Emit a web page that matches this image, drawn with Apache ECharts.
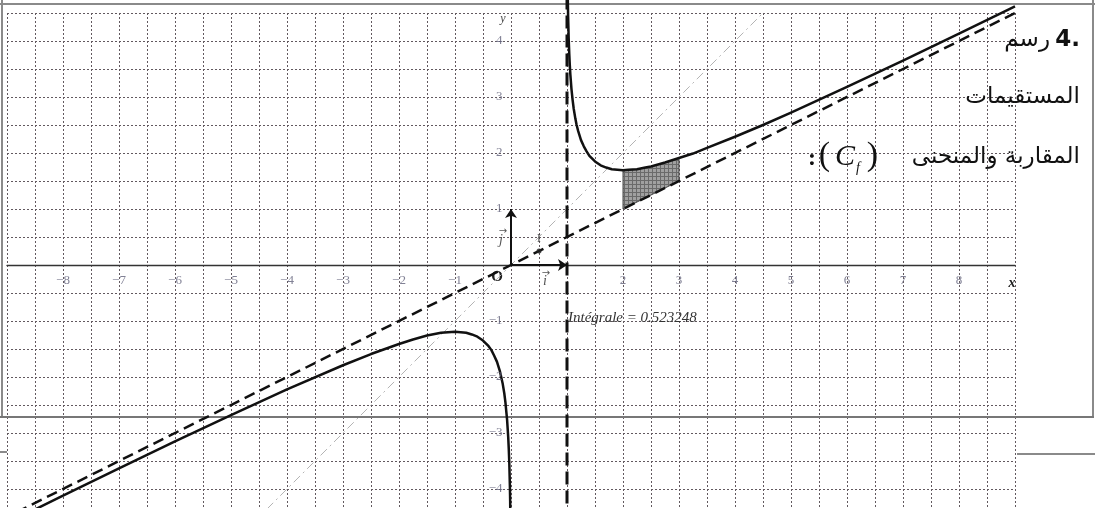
<!DOCTYPE html>
<html>
<head>
<meta charset="utf-8">
<script src="https://cdn.jsdelivr.net/npm/echarts@6/dist/echarts.min.js"></script>
<style>
  html, body { margin: 0; padding: 0; background: #fff; }
  #chart { width: 1095px; height: 508px; }
</style>
</head>
<body>
<div id="chart"></div>
<script>
// Curve (C_f), branch on x > 1
const rightX = [1.01, 1.015, 1.02, 1.03, 1.04, 1.05, 1.06, 1.08, 1.1, 1.12, 1.15, 1.17, 1.2, 1.25, 1.3, 1.35, 1.4, 1.5, 1.6, 1.7, 1.8, 1.9, 2, 2.1, 2.25, 2.4, 2.5, 2.75, 3, 3.25, 3.5, 4, 4.5, 5, 6, 7, 8, 9];
const rightY = [5.12, 4.72, 4.44, 4.05, 3.78, 3.57, 3.40, 3.14, 2.95, 2.79, 2.61, 2.51, 2.39, 2.23, 2.12, 2.03, 1.95, 1.85, 1.78, 1.74, 1.71, 1.70, 1.69, 1.70, 1.71, 1.74, 1.76, 1.83, 1.91, 1.99, 2.09, 2.29, 2.50, 2.72, 3.18, 3.65, 4.13, 4.62];
// Curve (C_f), branch on x < 0
const leftX = [-9, -8, -7, -6, -5, -4, -3, -2.5, -2, -1.75, -1.5, -1.25, -1, -0.9, -0.8, -0.7, -0.6, -0.5, -0.4, -0.35, -0.3, -0.25, -0.2, -0.15, -0.12, -0.1, -0.07, -0.05, -0.04, -0.03, -0.02, -0.015, -0.012, -0.01];
const leftY = [-4.61, -4.12, -3.63, -3.15, -2.68, -2.22, -1.79, -1.59, -1.41, -1.33, -1.26, -1.21, -1.19, -1.20, -1.21, -1.24, -1.28, -1.35, -1.45, -1.52, -1.62, -1.73, -1.89, -2.11, -2.29, -2.45, -2.76, -3.07, -3.28, -3.55, -3.94, -4.22, -4.44, -4.62];
// Oblique asymptote y = x/2
const obliqueX = [-9.1, 9.05];
const obliqueY = [-4.55, 4.525];
// Vertical asymptote x = 1
const verticalX = [1, 1];
const verticalY = [-4.6, 4.75];
// First bisector y = x
const bisectorX = [-4.6, 4.6];
const bisectorY = [-4.6, 4.6];
// Region between the curve and the oblique asymptote, 2 <= x <= 3
const shadeX = [2, 2.1, 2.25, 2.4, 2.5, 2.75, 3];
const shadeTop = [1.69, 1.70, 1.71, 1.74, 1.76, 1.83, 1.91];
const shadeBottom = [1, 1.05, 1.125, 1.2, 1.25, 1.375, 1.5];
// Point I on the asymptote
const pointI = [0.5, 0.25];
// Tick labels
const xTicks = [-8, -7, -6, -5, -4, -3, -2, -1, 2, 3, 4, 5, 6, 7, 8];
const yTicks = [-4, -3, -2, -1, 1, 2, 3, 4];
const integralText = 'Intégrale = 0.523248';

const zip = (xs, ys) => xs.map((x, i) => [x, ys[i]]);
const fmt = v => (v < 0 ? '\u2212' + Math.abs(v) : String(v));

function hatchCanvas() {
  const c = document.createElement('canvas');
  c.width = 4; c.height = 4;
  const g = c.getContext('2d');
  g.fillStyle = '#a0a0a0';
  g.fillRect(0, 0, 4, 4);
  g.fillStyle = '#6a6a6a';
  g.fillRect(0, 0, 4, 1);
  g.fillRect(0, 0, 1, 4);
  return c;
}
const hatch = { image: hatchCanvas(), repeat: 'repeat' };

const chart = echarts.init(document.getElementById('chart'), null, { renderer: 'canvas' });

const gridLine = { show: true, lineStyle: { color: '#62595f', type: [2, 2], width: 1 } };
const tickLabel = { show: true, color: '#62627a', fontFamily: 'Liberation Serif', fontSize: 13 };

chart.setOption({
  backgroundColor: '#ffffff',
  animation: false,
  grid: { left: 7, top: 13, width: 1008, height: 504, show: false, containLabel: false, outerBoundsMode: 'none' },
  xAxis: {
    type: 'value', min: -9, max: 9, interval: 0.5,
    axisLine: { onZero: true, lineStyle: { color: '#333', width: 1.4 } },
    axisTick: { show: false },
    axisLabel: { show: false },
    splitLine: gridLine
  },
  yAxis: {
    type: 'value', min: -4.5, max: 4.5, interval: 0.5,
    axisLine: { show: false },
    axisTick: { show: false },
    axisLabel: { show: false },
    splitLine: gridLine
  },
  series: [
    {
      name: 'y = x', type: 'line', data: zip(bisectorX, bisectorY), showSymbol: false, z: 3,
      lineStyle: { color: '#b4b4b4', width: 1, type: [9, 4, 2, 4] }
    },
    {
      name: 'aire', type: 'custom', z: 4,
      data: [[shadeX[0], shadeBottom[0]]],
      renderItem: (params, api) => {
        const pts = shadeX.map((x, i) => api.coord([x, shadeTop[i]]));
        for (let i = shadeX.length - 1; i >= 0; i--) pts.push(api.coord([shadeX[i], shadeBottom[i]]));
        return {
          type: 'polygon',
          shape: { points: pts },
          style: { fill: hatch, stroke: '#444', lineWidth: 1 }
        };
      }
    },
    {
      name: 'x = 1', type: 'line', data: zip(verticalX, verticalY), showSymbol: false, z: 5, clip: false,
      lineStyle: { color: '#111', width: 3, type: [13, 6] }
    },
    {
      name: 'y = x/2', type: 'line', data: zip(obliqueX, obliqueY), showSymbol: false, z: 5, clip: false,
      lineStyle: { color: '#111', width: 2.5, type: [11, 6] }
    },
    {
      name: 'Cf droite', type: 'line', data: zip(rightX, rightY), showSymbol: false, z: 6,
      smooth: false, clip: false,
      lineStyle: { color: '#111', width: 2.5, join: 'round' }
    },
    {
      name: 'Cf gauche', type: 'line', data: zip(leftX, leftY), showSymbol: false, z: 6,
      smooth: false, clip: false,
      lineStyle: { color: '#111', width: 2.5, join: 'round' }
    },
    {
      name: 'repere', type: 'lines', coordinateSystem: 'cartesian2d', z: 7,
      symbol: ['none', 'arrow'], symbolSize: 9,
      lineStyle: { color: '#111', width: 2, opacity: 1 },
      data: [
        { coords: [[0, 0], [1, 0]] },
        { coords: [[0, 0], [0, 1]] }
      ]
    },
    {
      name: 'I', type: 'scatter', data: [pointI], symbolSize: 5, z: 7,
      itemStyle: { color: '#222' },
      label: { show: true, formatter: 'I', position: 'top', distance: 3, color: '#333', fontFamily: 'Liberation Serif', fontSize: 13 }
    },
    {
      name: 'graduations x', type: 'scatter', z: 8, silent: true,
      data: xTicks.map(v => [v, 0]), symbolSize: 1, itemStyle: { color: 'rgba(0,0,0,0)' },
      label: Object.assign({ position: 'bottom', distance: 9, formatter: p => fmt(p.value[0]) }, tickLabel)
    },
    {
      name: 'graduations y', type: 'scatter', z: 8, silent: true,
      data: yTicks.map(v => [0, v]), symbolSize: 1, itemStyle: { color: 'rgba(0,0,0,0)' },
      label: Object.assign({ position: 'left', distance: 8, formatter: p => fmt(p.value[1]) }, tickLabel)
    }
  ]
});

// Labels placed relative to the axes
const px = (x, y) => chart.convertToPixel({ gridIndex: 0 }, [x, y]);
const o = px(0, 0);
const xEnd = px(9, 0);
const yTop = px(0, 4.4);
const iPos = px(0.5, 0);
const jPos = px(0, 0.5);
const intPos = px(1, -1);

const serif = 'Liberation Serif';
const ar = '23px DejaVu Sans';
chart.setOption({
  graphic: [
    // page frame
    { type: 'line', shape: { x1: 0, y1: 4, x2: 1095, y2: 4 }, style: { stroke: '#8a8a8a', lineWidth: 2 } },
    { type: 'line', shape: { x1: 2, y1: 0, x2: 2, y2: 418 }, style: { stroke: '#8a8a8a', lineWidth: 2 } },
    { type: 'line', shape: { x1: 1093, y1: 0, x2: 1093, y2: 418 }, style: { stroke: '#8a8a8a', lineWidth: 2 } },
    { type: 'line', shape: { x1: 0, y1: 417, x2: 1094, y2: 417 }, style: { stroke: '#777', lineWidth: 2 } },
    { type: 'line', shape: { x1: 1017, y1: 454, x2: 1095, y2: 454 }, style: { stroke: '#8a8a8a', lineWidth: 2 } },
    { type: 'line', shape: { x1: 0, y1: 452, x2: 7, y2: 452 }, style: { stroke: '#8a8a8a', lineWidth: 2 } },

    // axis names and frame vectors
    { type: 'text', x: o[0] - 14, y: o[1] + 12, style: { text: 'O', font: 'bold 15px ' + serif, fill: '#222', align: 'center', verticalAlign: 'middle' } },
    { type: 'text', x: xEnd[0] - 3, y: xEnd[1] + 18, style: { text: 'x', font: 'italic bold 14px ' + serif, fill: '#222', align: 'center', verticalAlign: 'middle' } },
    { type: 'text', x: yTop[0] - 8, y: yTop[1], style: { text: 'y', font: 'italic 12px ' + serif, fill: '#444', align: 'center', verticalAlign: 'middle' } },
    { type: 'text', x: iPos[0] + 6, y: iPos[1] + 16, style: { text: 'i', font: 'italic 14px ' + serif, fill: '#555', align: 'center', verticalAlign: 'middle' } },
    { type: 'text', x: iPos[0] + 7, y: iPos[1] + 8, style: { text: '\u2192', font: '10px DejaVu Sans', fill: '#555', align: 'center', verticalAlign: 'middle' } },
    { type: 'text', x: jPos[0] - 10, y: jPos[1] + 3, style: { text: 'j', font: 'italic 14px ' + serif, fill: '#555', align: 'center', verticalAlign: 'middle' } },
    { type: 'text', x: jPos[0] - 8, y: jPos[1] - 6, style: { text: '\u2192', font: '10px DejaVu Sans', fill: '#555', align: 'center', verticalAlign: 'middle' } },

    // integral value
    { type: 'text', x: intPos[0] + 1, y: intPos[1] - 3, style: { text: integralText, font: 'italic 15px ' + serif, fill: '#333', align: 'left', verticalAlign: 'middle' } },

    // heading
    { type: 'text', x: 1080, y: 40, style: { text: '4.', font: 'bold 23px DejaVu Sans', fill: '#111', align: 'right', verticalAlign: 'middle' } },
    { type: 'text', x: 1050, y: 40, style: { text: 'رسم', font: ar, fill: '#111', align: 'right', verticalAlign: 'middle' } },
    { type: 'text', x: 1080, y: 97, style: { text: 'المستقيمات', font: ar, fill: '#111', align: 'right', verticalAlign: 'middle' } },
    { type: 'text', x: 1080, y: 157, style: { text: 'المقاربة والمنحنى', font: ar, fill: '#111', align: 'right', verticalAlign: 'middle' } },
    { type: 'text', x: 878, y: 156, style: { text: ')', font: '34px ' + serif, fill: '#111', align: 'right', verticalAlign: 'middle' } },
    { type: 'text', x: 855, y: 157, style: { text: 'C', font: 'italic 30px ' + serif, fill: '#111', align: 'right', verticalAlign: 'middle' } },
    { type: 'text', x: 856, y: 168, style: { text: 'f', font: 'italic 14px ' + serif, fill: '#111', align: 'left', verticalAlign: 'middle' } },
    { type: 'text', x: 830, y: 156, style: { text: '(', font: '34px ' + serif, fill: '#111', align: 'right', verticalAlign: 'middle' } },
    { type: 'text', x: 816, y: 159, style: { text: ':', font: 'bold 24px ' + serif, fill: '#111', align: 'right', verticalAlign: 'middle' } }
  ]
});
</script>
</body>
</html>
